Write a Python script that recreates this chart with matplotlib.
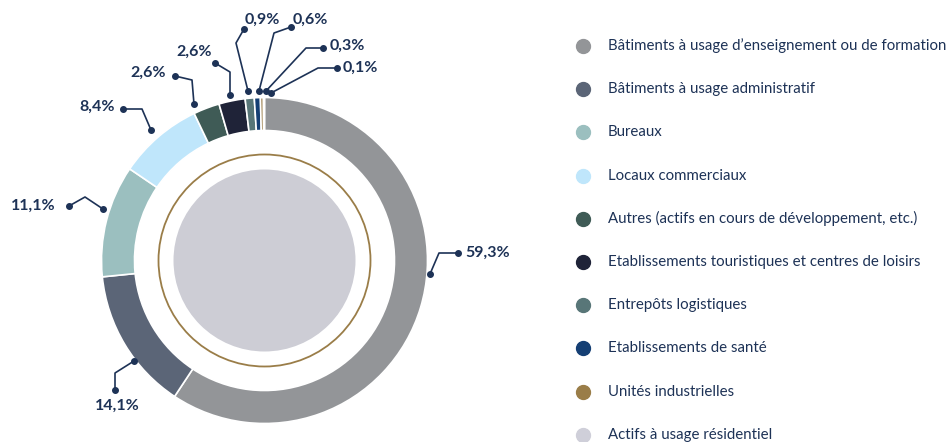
import matplotlib
matplotlib.use('Agg')
import matplotlib.pyplot as plt

# data
categories = [
    "Bâtiments à usage d\u2019enseignement ou de formation",
    "Bâtiments à usage administratif",
    "Bureaux",
    "Locaux commerciaux",
    "Autres (actifs en cours de développement, etc.)",
    "Etablissements touristiques et centres de loisirs",
    "Entrepôts logistiques",
    "Etablissements de santé",
    "Unités industrielles",
    "Actifs à usage résidentiel",
]
shares = [59.3, 14.1, 11.1, 8.4, 2.6, 2.6, 0.9, 0.6, 0.3, 0.1]
pct_labels = ["59,3%", "14,1%", "11,1%", "8,4%", "2,6%", "2,6%", "0,9%", "0,6%", "0,3%", "0,1%"]
colors = ["#939598", "#5b6577", "#9bbfbf", "#bfe6fb", "#3f5b56",
          "#1f2338", "#587678", "#153f74", "#9a7d48", "#cfcfd9"]

W, H = 951, 442
navy = "#1d3256"
plt.rcParams['font.family'] = ['Lato', 'DejaVu Sans']

fig = plt.figure(figsize=(W / 100, H / 100), dpi=100)
ax = fig.add_axes([0, 0, 1, 1])


def P(x, y):
    # pixel coords (top-left origin) -> data coords
    return x, H - y


cx, cy = P(264.5, 260.5)
ax.pie(shares, colors=colors, startangle=90, counterclock=False,
       center=(cx, cy), radius=163,
       wedgeprops=dict(width=33, edgecolor='white', linewidth=1.2))

# inner disc and thin gold ring
ax.add_patch(plt.Circle((cx, cy), 91, color="#cdcdd5", lw=0))
ax.add_patch(plt.Circle((cx, cy), 106, fill=False, ec="#9a7d48", lw=1.3))

# label connectors: (ring end, elbow, dot), text position, alignment
callouts = [
    ((430, 274), (439, 253), (458, 253), (465, 253), 'left'),
    ((134, 361), (115, 373), (115, 390), (117, 406), 'center'),
    ((103, 209), (85, 197), (69, 206), (56, 206), 'right'),
    ((151, 130), (142, 109), (123, 109), (115, 107), 'right'),
    ((194, 104), (192, 80), (175, 76), (166, 73), 'right'),
    ((230, 95), (230, 72), (215, 63), (194, 52), 'center'),
    ((248, 91), (236, 43), (244, 29), (262, 20), 'center'),
    ((259, 91), (274, 33), (291, 27), (310, 20), 'center'),
    ((266, 91), (306, 48), (323, 48), (330, 46), 'left'),
    ((271, 93), (318, 68), (337, 68), (343, 68), 'left'),
]
for lab, (a, b, c, t, ha) in zip(pct_labels, callouts):
    pts = [P(*a), P(*b), P(*c)]
    ax.plot([p[0] for p in pts], [p[1] for p in pts], color=navy, lw=1.2)
    ax.plot([pts[0][0], pts[2][0]], [pts[0][1], pts[2][1]], 'o', color=navy,
            ms=4, mfc=navy, mec=navy, lw=0)
    tx, ty = P(*t)
    ax.text(tx, ty, lab, ha=ha, va='center', fontsize=11.5, fontweight='bold',
            color=navy)

# legend
for i, (name, col) in enumerate(zip(categories, colors)):
    lx, ly = P(583, 46 + i * 43.2)
    ax.plot(lx, ly, 'o', ms=10, color=col)
    ax.text(lx + 25, ly, name, ha='left', va='center', fontsize=10.8, color=navy)

ax.set_xlim(0, W)
ax.set_ylim(0, H)
ax.set_aspect('equal')
ax.axis('off')
fig.savefig('out.png', dpi=100)
